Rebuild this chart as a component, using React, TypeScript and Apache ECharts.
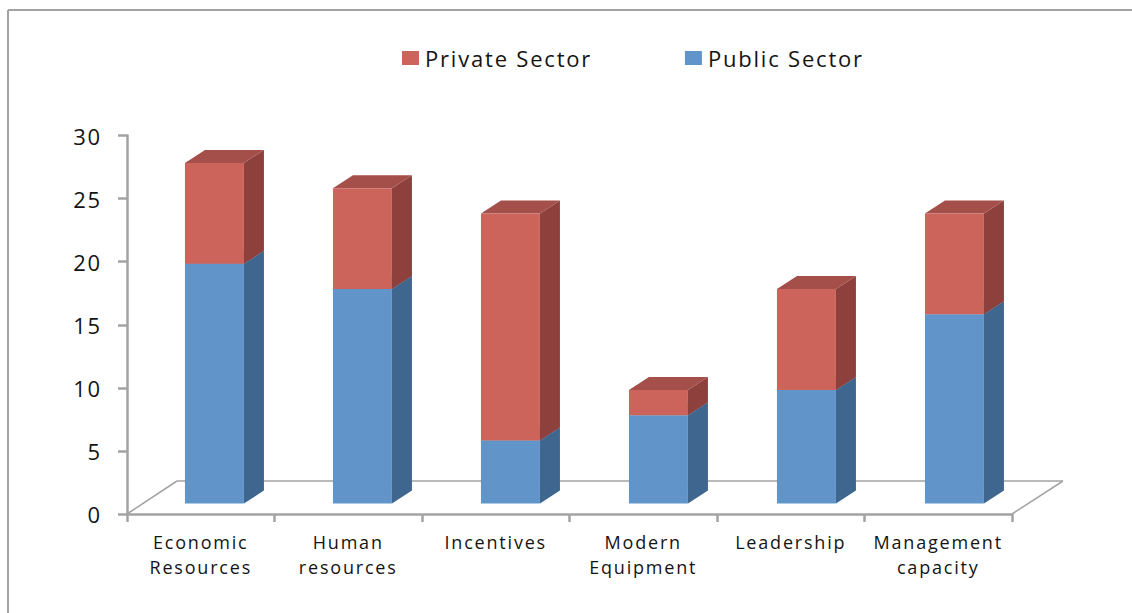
import React, { useEffect, useRef } from "react";
import * as echarts from "echarts";

const categories = [
  "Economic\nResources",
  "Human\nresources",
  "Incentives",
  "Modern\nEquipment",
  "Leadership",
  "Management\ncapacity",
];
const publicSector = [19, 17, 5, 7, 9, 15];
const privateSector = [8, 8, 18, 2, 8, 8];
const yTicks = { min: 0, max: 30, interval: 5 };

const GREY = "#A3A3A3";
const TEXT = "#141414";
const FONT = "Open Sans";
const SHIFT_X = 13.7;
const SPREAD_X = 0.5;
const SHIFT_Y = -10.5;
const DEPTH_X = 20;
const DEPTH_Y = 13;

const makeRender = (front: string, side: string, top: string) => (params: any, api: any) => {
  const idx = api.value(0);
  const a = api.coord([idx, api.value(1)]);
  const b = api.coord([idx, api.value(2)]);
  const w = api.size([1, 0])[0] * 0.4;
  const x0 = a[0] + SHIFT_X + SPREAD_X * idx - w / 2;
  const x1 = x0 + w;
  const y0 = a[1] + SHIFT_Y;
  const y1 = b[1] + SHIFT_Y;
  return {
    type: "group",
    children: [
      { type: "polygon", shape: { points: [[x1, y0], [x1 + DEPTH_X, y0 - DEPTH_Y], [x1 + DEPTH_X, y1 - DEPTH_Y], [x1, y1]] }, style: { fill: side } },
      { type: "polygon", shape: { points: [[x0, y1], [x1, y1], [x1 + DEPTH_X, y1 - DEPTH_Y], [x0 + DEPTH_X, y1 - DEPTH_Y]] }, style: { fill: top } },
      { type: "rect", shape: { x: x0, y: y1, width: w, height: y0 - y1 }, style: { fill: front } },
    ],
  };
};

const lineEl = (x1: number, y1: number, x2: number, y2: number, lineWidth: number) => ({
  type: "line",
  z: 1,
  shape: { x1, y1, x2, y2 },
  style: { stroke: GREY, lineWidth },
});

export default function App() {
  const ref = useRef<HTMLDivElement>(null);
  useEffect(() => {
    const chart = echarts.init(ref.current!, undefined, { renderer: "svg" });
    chart.setOption({
      animation: false,
      backgroundColor: "#fff",
      textStyle: { fontFamily: FONT },
      grid: { left: 127, right: 120, top: 135.6, bottom: 99 },
      legend: {
        left: 402,
        top: 47,
        padding: 0,
        itemWidth: 17,
        itemHeight: 14,
        itemGap: 118,
        icon: "rect",
        data: ["Private Sector", "Public Sector"],
        textStyle: { fontFamily: FONT, fontSize: 22, color: TEXT, padding: [0, 0, 0, 1] },
      },
      xAxis: {
        type: "category",
        data: categories,
        axisLine: { lineStyle: { color: GREY, width: 2.5 } },
        axisTick: { show: true, alignWithLabel: false, length: 8, lineStyle: { color: GREY, width: 2.5 } },
        axisLabel: { interval: 0, fontFamily: FONT, fontSize: 18, lineHeight: 25, color: TEXT, margin: 15 },
      },
      yAxis: {
        type: "value",
        ...yTicks,
        splitLine: { show: false },
        axisLine: { show: true, lineStyle: { color: GREY, width: 2.5 } },
        axisTick: { show: true, length: 9, lineStyle: { color: GREY, width: 2.5 } },
        axisLabel: { fontFamily: FONT, fontSize: 22, color: TEXT, margin: 25 },
      },
      graphic: [
        lineEl(8, 10, 1132, 10, 2),
        lineEl(8, 10, 8, 613, 2),
        lineEl(127, 514, 177, 481, 1.5),
        lineEl(177, 481, 1063, 481, 1.5),
        lineEl(1063, 481, 1012, 514, 1.5),
      ],
      series: [
        {
          name: "Public Sector",
          type: "custom",
          z: 3,
          itemStyle: { color: "#6195C9" },
          encode: { x: 0, y: [1, 2] },
          data: publicSector.map((v, i) => [i, 0, v]),
          renderItem: makeRender("#6195C9", "#3F668F", "#4F7CAB"),
        },
        {
          name: "Private Sector",
          type: "custom",
          z: 4,
          itemStyle: { color: "#CD645C" },
          encode: { x: 0, y: [1, 2] },
          data: privateSector.map((v, i) => [i, publicSector[i], publicSector[i] + v]),
          renderItem: makeRender("#CD645C", "#8E403C", "#A44F49"),
        },
      ],
    });
    return () => chart.dispose();
  }, []);
  return (
    <div
      ref={ref}
      style={{ position: "fixed", left: 0, top: 0, width: 1132, height: 613, letterSpacing: "1.8px" }}
    />
  );
}
